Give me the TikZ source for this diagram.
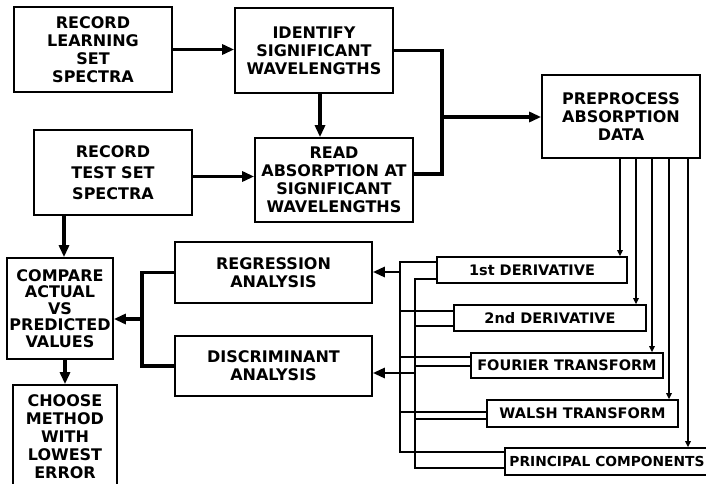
\documentclass[tikz,border=0pt]{standalone}
\usepackage{fontspec}
\setmainfont{DejaVu Sans}
\usetikzlibrary{arrows.meta}

\begin{document}
\begin{tikzpicture}[x=1pt, y=-1pt,
    box/.style={shape=rectangle, draw=black, line width=1.7pt, align=center, inner sep=0pt, font=\bfseries\fontsize{16}{18}\selectfont},
    tab/.style={shape=rectangle, draw=black, line width=1.7pt, inner sep=0pt, font=\bfseries\fontsize{14.5}{16}\selectfont},
    pipe/.style={line width=3.4pt},
    flow/.style={pipe, -{Triangle[length=12pt,width=10pt]}},
    feed/.style={line width=2.5pt, -{Triangle[length=6pt,width=5.5pt]}},
    bus/.style={line width=2.8pt},
    tap/.style={line width=2.2pt}]
    \useasboundingbox (0,0) rectangle (706,484);
    \node[box, minimum width=158pt, minimum height=85pt] (learn) at (93,49.5) {RECORD\\LEARNING\\SET\\SPECTRA};
    \node[box, minimum width=158pt, minimum height=85pt] (ident) at (314,50.5) {IDENTIFY\\SIGNIFICANT\\WAVELENGTHS};
    \node[box, minimum width=158pt, minimum height=85pt, font=\bfseries\fontsize{16}{21}\selectfont] (test) at (113,172.5) {RECORD\\TEST SET\\SPECTRA};
    \node[box, minimum width=158pt, minimum height=84pt] (read) at (334,180) {READ\\ABSORPTION AT\\SIGNIFICANT\\WAVELENGTHS};
    \node[box, minimum width=158pt, minimum height=83pt] (prep) at (621,116.5) {PREPROCESS\\ABSORPTION\\DATA};
    \node[box, minimum width=106pt, minimum height=101pt, font=\bfseries\fontsize{16}{16.5}\selectfont] (cmp) at (60,308.5) {COMPARE\\ACTUAL\\VS\\PREDICTED\\VALUES};
    \node[box, minimum width=104pt, minimum height=103pt] (choose) at (65,436.5) {CHOOSE\\METHOD\\WITH\\LOWEST\\ERROR};
    \node[box, minimum width=197pt, minimum height=61pt] (reg) at (273.5,272.5) {REGRESSION\\ANALYSIS};
    \node[box, minimum width=197pt, minimum height=60pt] (disc) at (273.5,366) {DISCRIMINANT\\ANALYSIS};
    \node[tab, minimum width=190pt, minimum height=26pt] (d1) at (532,270) {1st DERIVATIVE};
    \node[tab, minimum width=192pt, minimum height=26pt] (d2) at (550,318) {2nd DERIVATIVE};
    \node[tab, minimum width=192pt, minimum height=25pt] (ft) at (567,365.5) {FOURIER TRANSFORM};
    \node[tab, minimum width=191pt, minimum height=27pt] (wt) at (582.5,413.5) {WALSH TRANSFORM};
    \node[tab, minimum width=204pt, minimum height=27pt, font=\bfseries\fontsize{13.8}{16}\selectfont] (pc) at (607,461.5) {PRINCIPAL COMPONENTS};
    \coordinate (join) at (442,117);
    \coordinate (res) at (142,319);
    \coordinate (ra) at (400,272);
    \coordinate (rb) at (415,373);
    % top row
    \draw[flow] (learn.east) -- (learn.east -| ident.west);
    \draw[flow] ([xshift=6pt]ident.south) -- ([xshift=6pt]ident.south |- read.north);
    \draw[flow] ([yshift=-4pt]test.east) -- ([yshift=-4pt]test.east -| read.west);
    \draw[pipe] (ident.east) -| (join);
    \draw[pipe] ([yshift=6pt]read.east) -| (join);
    \draw[flow] (join) -- (join -| prep.west);
    % left column
    \draw[flow] ([xshift=4pt]cmp.north |- test.south) -- ([xshift=4pt]cmp.north);
    \draw[flow] (choose.north |- cmp.south) -- (choose.north);
    \draw[pipe] (reg.west) -| (res) |- (disc.west);
    \draw[flow] (res) -- (res -| cmp.east);
    % preprocessing methods
    \foreach \xx/\tgt in {620/d1,636/d2,652/ft,669/wt,688/pc}
        \draw[feed] (prep.south -| \xx,0) -- (\tgt.north -| \xx,0);
    \draw[bus] (d1.west |- 400,262) -| (400,452) -- (pc.west |- 400,452);
    \draw[bus] (d1.west |- 415,279) -| (415,468) -- (pc.west |- 415,468);
    \foreach \tgt/\ya/\yb in {d2/311/326, ft/357/366, wt/412/419} {
        \draw[tap] (400,\ya) -- (\tgt.west |- 400,\ya);
        \draw[tap] (415,\yb) -- (\tgt.west |- 415,\yb);
    }
    \draw[flow, line width=2.8pt] (ra) -- (ra -| reg.east);
    \draw[flow, line width=2.8pt] (rb) -- (rb -| disc.east);
\end{tikzpicture}
\end{document}
